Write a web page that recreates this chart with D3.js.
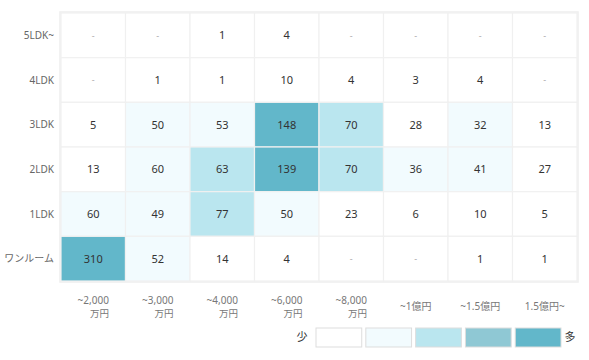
<!DOCTYPE html>
<html><head><meta charset="utf-8">
<script src="https://cdn.jsdelivr.net/npm/d3@7"></script>
<style>body{margin:0;background:#fff}svg{display:block}text{font-family:"Noto Sans","Noto Sans CJK JP",sans-serif}</style>
</head><body>
<script>
const rows = ["5LDK~","4LDK","3LDK","2LDK","1LDK","ワンルーム"];
const cols = [["~2,000","万円"],["~3,000","万円"],["~4,000","万円"],["~6,000","万円"],["~8,000","万円"],["~1億円"],["~1.5億円"],["1.5億円~"]];
const v5LDK = [0,0,1,4,0,0,0,0];
const v4LDK = [0,1,1,10,4,3,4,0];
const v3LDK = [5,50,53,148,70,28,32,13];
const v2LDK = [13,60,63,139,70,36,41,27];
const v1LDK = [60,49,77,50,23,6,10,5];
const vOne  = [310,52,14,4,0,0,1,1];
const values = [v5LDK,v4LDK,v3LDK,v2LDK,v1LDK,vOne];
const legendColors = ["#ffffff","#f2fbfe","#bae6ef","#8fc8d4","#62b7ca"];
const thresholds = [30,61,101,131];

const W=589,H=360;
const svg=d3.select("body").append("svg").attr("width",W).attr("height",H);
const x=d3.scaleBand().domain(d3.range(cols.length)).range([61,577]);
const y=d3.scaleBand().domain(rows).range([13,281]);
const color=d3.scaleThreshold().domain(thresholds).range(legendColors);

const cells=[];
values.forEach((arr,ri)=>arr.forEach((v,ci)=>cells.push({r:rows[ri],c:ci,v})));

svg.append("rect").attr("x",60).attr("y",12).attr("width",518).attr("height",270)
  .attr("fill","#fff").attr("stroke","#eeeeee").attr("stroke-width",1.5);

const g=svg.append("g");
g.selectAll("rect").data(cells).join("rect")
  .attr("x",d=>x(d.c)).attr("y",d=>y(d.r))
  .attr("width",x.bandwidth()).attr("height",y.bandwidth())
  .attr("fill",d=>color(d.v)).attr("stroke","#f0f0f0").attr("stroke-width",1.2);

g.selectAll("text").data(cells).join("text")
  .attr("x",d=>x(d.c)+x.bandwidth()/2).attr("y",d=>y(d.r)+y.bandwidth()/2)
  .attr("dy","0.36em").attr("text-anchor","middle")
  .attr("font-size",d=>d.v?11:9).attr("fill",d=>d.v?"#333":"#aaa")
  .text(d=>d.v?d.v:"-");

svg.append("g").selectAll("text").data(rows).join("text")
  .attr("x",54).attr("y",d=>y(d)+y.bandwidth()/2).attr("dy","0.35em")
  .attr("text-anchor","end").attr("font-size",10).attr("fill","#666").text(d=>d);

const xl=svg.append("g").selectAll("g").data(cols).join("g");
xl.each(function(d,i){
  const gg=d3.select(this), cx=x(i)+x.bandwidth()/2;
  if(d.length===1){
    gg.append("text").attr("x",cx).attr("y",306).attr("dy","0.35em").attr("text-anchor","middle")
      .attr("font-size",10).attr("fill","#777").text(d[0]);
  } else {
    const t=gg.append("text").attr("x",cx).attr("y",300.5).attr("dy","0.35em").attr("text-anchor","middle")
      .attr("font-size",10).attr("fill","#777").text(d[0]);
    const w=t.node().getComputedTextLength();
    gg.append("text").attr("x",cx+w/2).attr("y",314).attr("dy","0.35em").attr("text-anchor","end")
      .attr("font-size",9.5).attr("fill","#777").text(d[1]);
  }
});

const lg=svg.append("g");
const lx=d3.scaleBand().domain(d3.range(legendColors.length)).range([316,561]).paddingInner(4/49).paddingOuter(0);
lg.selectAll("rect").data(legendColors).join("rect")
  .attr("x",(d,i)=>lx(i)).attr("y",328).attr("width",lx.bandwidth()).attr("height",19)
  .attr("fill",d=>d).attr("stroke","#dddddd").attr("stroke-width",1);
lg.append("text").attr("x",302).attr("y",337.5).attr("dy","0.35em").attr("text-anchor","middle")
  .attr("font-size",11).attr("fill","#333").text("少");
lg.append("text").attr("x",570).attr("y",337.5).attr("dy","0.35em").attr("text-anchor","middle")
  .attr("font-size",11).attr("fill","#333").text("多");
</script>
</body></html>
